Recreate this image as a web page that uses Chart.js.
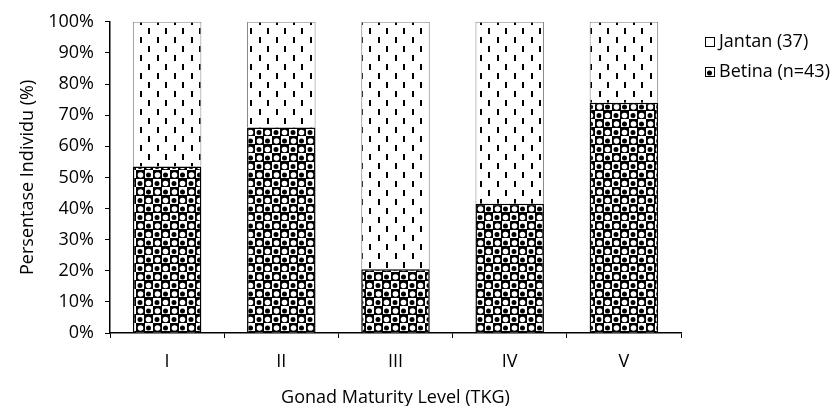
<!DOCTYPE html>
<html>
<head>
<meta charset="utf-8">
<script src="https://cdn.jsdelivr.net/npm/chart.js@4/dist/chart.umd.min.js"></script>
<style>
    html, body { margin: 0; padding: 0; background: #fff; }
    #wrap { width: 840px; height: 406px; }
</style>
</head>
<body>
<div id="wrap"><canvas id="tkg-chart"></canvas></div>
<script>
const categories = ['I', 'II', 'III', 'IV', 'V'];
const betinaValues = [53.5, 66, 20.5, 41.5, 74];
const jantanValues = [46.5, 34, 79.5, 58.5, 26];
const yTicks = [0, 10, 20, 30, 40, 50, 60, 70, 80, 90, 100];

const FONT = "'Open Sans', sans-serif";

// white with short staggered vertical dashes
function makeDashPattern() {
    const c = document.createElement('canvas');
    c.width = 17;
    c.height = 18;
    const g = c.getContext('2d');
    g.fillStyle = '#fff';
    g.fillRect(0, 0, 17, 18);
    g.fillStyle = '#000';
    g.fillRect(4, 1, 2, 6);
    g.fillRect(12, 10, 2, 6);
    return g.createPattern(c, 'repeat');
}

// checker of black squares, each holding a round hole of the other colour
function makeCheckPattern() {
    const c = document.createElement('canvas');
    c.width = 17;
    c.height = 17;
    const g = c.getContext('2d');
    g.fillStyle = '#fff';
    g.fillRect(0, 0, 17, 17);
    g.fillStyle = '#000';
    g.fillRect(0, 0, 9, 9);
    g.fillRect(8, 8, 9, 9);
    g.beginPath();
    g.arc(12.5, 5, 2.5, 0, Math.PI * 2);
    g.arc(4, 13.5, 2.5, 0, Math.PI * 2);
    g.fill();
    g.fillStyle = '#fff';
    g.beginPath();
    g.arc(4.5, 5, 2.8, 0, Math.PI * 2);
    g.arc(12.5, 13.5, 2.8, 0, Math.PI * 2);
    g.fill();
    return g.createPattern(c, 'repeat');
}

const dashFill = makeDashPattern();
const checkFill = makeCheckPattern();

const sideLegend = {
    id: 'sideLegend',
    afterDraw(chart) {
        const ctx = chart.ctx;
        const items = chart.data.datasets.slice().reverse();
        ctx.save();
        ctx.font = '18px ' + FONT;
        ctx.textBaseline = 'middle';
        ctx.textAlign = 'left';
        items.forEach((ds, i) => {
            const y = 42 + i * 30;
            ctx.fillStyle = ds.backgroundColor;
            ctx.fillRect(705, y - 5, 10, 10);
            ctx.strokeStyle = '#000';
            ctx.lineWidth = 1;
            ctx.strokeRect(705.5, y - 4.5, 9, 9);
            ctx.fillStyle = '#000';
            ctx.fillText(ds.label, 719, y);
        });
        ctx.restore();
    },
};

new Chart(document.getElementById('tkg-chart'), {
    type: 'bar',
    data: {
        labels: categories,
        datasets: [
            {
                label: 'Betina (n=43)',
                data: betinaValues,
                backgroundColor: checkFill,
                borderColor: '#000',
                borderWidth: 1.5,
                barPercentage: 0.6,
                categoryPercentage: 1,
            },
            {
                label: 'Jantan (37)',
                data: jantanValues,
                backgroundColor: dashFill,
                borderColor: '#808080',
                borderWidth: 1,
                barPercentage: 0.6,
                categoryPercentage: 1,
            },
        ],
    },
    options: {
        responsive: true,
        maintainAspectRatio: false,
        animation: false,
        layout: {
            padding: { top: 19, right: 159, left: 0, bottom: 0 },
        },
        plugins: {
            legend: { display: false },
            tooltip: { enabled: false },
        },
        scales: {
            x: {
                stacked: true,
                afterFit: (scale) => { scale.height = 73; },
                grid: {
                    offset: true,
                    drawOnChartArea: false,
                    tickLength: 5,
                    color: '#000',
                },
                border: { color: '#000', width: 1.5 },
                ticks: {
                    color: '#000',
                    padding: 13,
                    font: { family: FONT, size: 18 },
                },
                title: {
                    display: true,
                    text: 'Gonad Maturity Level (TKG)',
                    color: '#000',
                    padding: 0,
                    font: { family: FONT, size: 18, lineHeight: 0.9 },
                },
            },
            y: {
                stacked: true,
                min: 0,
                max: 100,
                afterFit: (scale) => { scale.width = 110; },
                afterBuildTicks: (scale) => {
                    scale.ticks = yTicks.map((v) => ({ value: v }));
                },
                grid: {
                    drawOnChartArea: false,
                    tickLength: 5,
                    color: '#000',
                },
                border: { color: '#000', width: 1.5 },
                ticks: {
                    color: '#000',
                    padding: 11,
                    font: { family: FONT, size: 18 },
                    callback: (v) => v + '%',
                },
                title: {
                    display: true,
                    text: 'Persentase Individu (%)',
                    color: '#000',
                    padding: { top: 17, bottom: 0 },
                    font: { family: FONT, size: 18 },
                },
            },
        },
    },
    plugins: [sideLegend],
});
</script>
</body>
</html>
